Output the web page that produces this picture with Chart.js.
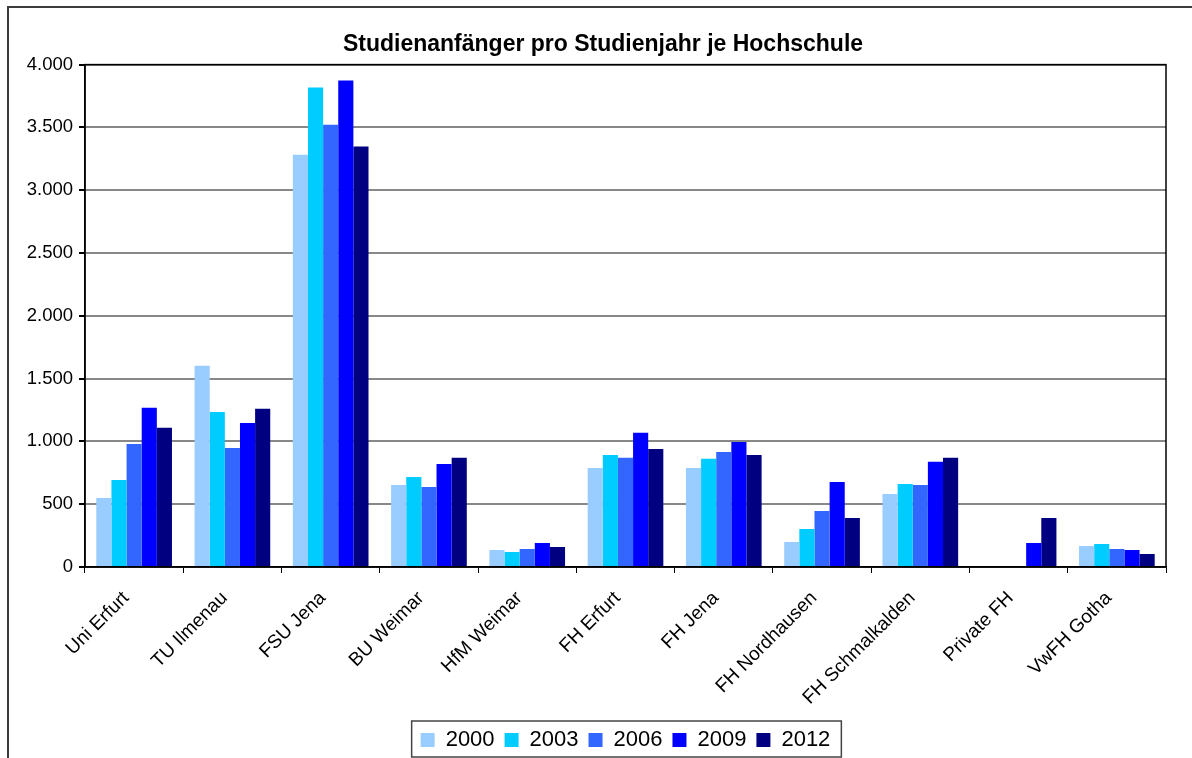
<!DOCTYPE html>
<html lang="de">
<head>
<meta charset="utf-8">
<title>Studienanfänger pro Studienjahr je Hochschule</title>
<script src="https://cdn.jsdelivr.net/npm/chart.js@4.4.1/dist/chart.umd.min.js"></script>
<style>
    html, body { margin: 0; padding: 0; background: #fff; }
    #wrap { position: relative; width: 1192px; height: 758px; }
</style>
</head>
<body>
<div id="wrap"><canvas id="mainChart" width="1192" height="758"></canvas></div>
<script>
// Data
const hochschulen = ["Uni Erfurt", "TU Ilmenau", "FSU Jena", "BU Weimar", "HfM Weimar", "FH Erfurt",
    "FH Jena", "FH Nordhausen", "FH Schmalkalden", "Private FH", "VwFH Gotha"];
const jahre = ["2000", "2003", "2006", "2009", "2012"];
const werte2000 = [550, 1602, 3283, 653, 135, 789, 789, 199, 582, null, 167];
const werte2003 = [693, 1235, 3817, 717, 120, 892, 861, 303, 661, null, 183];
const werte2006 = [980, 948, 3522, 637, 143, 869, 916, 446, 653, null, 143];
const werte2009 = [1267, 1147, 3873, 821, 191, 1068, 996, 677, 837, 191, 135];
const werte2012 = [1108, 1259, 3347, 869, 159, 940, 892, 390, 869, 390, 104];
const yTicks = [0, 500, 1000, 1500, 2000, 2500, 3000, 3500, 4000];

const farben = ["#99CCFF", "#00CCFF", "#3366FF", "#0000FF", "#000080"];

document.addEventListener("DOMContentLoaded", function () {
    Chart.defaults.font.family = "Arial, 'Liberation Sans', sans-serif";
    Chart.defaults.color = "#000";

    const serien = [werte2000, werte2003, werte2006, werte2009, werte2012];

    // outer frame, plot frame and legend box
    const rahmen = {
        id: "rahmen",
        afterLayout(chart) {
            // center legend under plot area like Excel does
            const lg = chart.legend;
            lg.left = chart.chartArea.left;
            lg.right = chart.chartArea.right;
            lg.top += 3;
            lg.bottom += 3;
            // title centered on the whole frame
            if (chart.titleBlock) {
                chart.titleBlock.left = 8;
                chart.titleBlock.right = 1198;
                chart.titleBlock.width = 1190;
            }
        },
        beforeDraw(chart) {
            const ctx = chart.ctx;
            ctx.save();
            ctx.fillStyle = "#fff";
            ctx.fillRect(0, 0, chart.width, chart.height);
            ctx.strokeStyle = "#3c3c3c";
            ctx.lineWidth = 2;
            ctx.strokeRect(8, 7, 1190, 800);
            ctx.restore();
        },
        afterDraw(chart) {
            const ctx = chart.ctx;
            const a = chart.chartArea;
            ctx.save();
            ctx.strokeStyle = "#000";
            ctx.lineWidth = 1.5;
            ctx.strokeRect(a.left, a.top, a.right - a.left, a.bottom - a.top);

            const boxes = chart.legend.legendHitBoxes;
            if (boxes && boxes.length) {
                const first = boxes[0];
                const last = boxes[boxes.length - 1];
                ctx.strokeStyle = "#444";
                ctx.lineWidth = 1.5;
                ctx.strokeRect(first.left - 9, 721, (last.left + last.width + 11) - (first.left - 9), 36);
            }
            ctx.restore();
        }
    };

    new Chart(document.getElementById("mainChart").getContext("2d"), {
        type: "bar",
        data: {
            labels: hochschulen,
            datasets: jahre.map((jahr, i) => ({
                label: jahr,
                data: serien[i],
                backgroundColor: farben[i],
                borderWidth: 0,
                categoryPercentage: 0.77,
                barPercentage: 1.0
            }))
        },
        options: {
            responsive: false,
            animation: false,
            layout: { padding: { left: 10, right: 26, top: 0, bottom: 0 } },
            plugins: {
                title: {
                    display: true,
                    text: "Studienanfänger pro Studienjahr je Hochschule",
                    font: { size: 23, weight: "bold" },
                    padding: { top: 31, bottom: 6 }
                },
                legend: {
                    position: "bottom",
                    labels: {
                        font: { size: 22 },
                        boxWidth: 14,
                        boxHeight: 14,
                        padding: 10
                    }
                },
                tooltip: { enabled: false }
            },
            scales: {
                x: {
                    grid: {
                        drawOnChartArea: false,
                        tickColor: "#000",
                        tickLength: 6,
                        offset: true
                    },
                    border: { color: "#000", width: 1.5 },
                    ticks: {
                        minRotation: 45,
                        maxRotation: 45,
                        padding: 14,
                        labelOffset: -8,
                        font: { size: 19 }
                    },
                    afterFit(scale) {
                        scale.height = 149;
                    }
                },
                y: {
                    min: 0,
                    max: 4000,
                    afterBuildTicks(scale) {
                        scale.ticks = yTicks.map(v => ({ value: v }));
                    },
                    grid: {
                        color: "#888",
                        lineWidth: 2,
                        tickColor: "#000",
                        tickLength: 6
                    },
                    border: { color: "#000", width: 1.5 },
                    ticks: {
                        padding: 6,
                        font: { size: 18.5 },
                        callback: v => v.toLocaleString("de-DE")
                    },
                    afterFit(scale) {
                        scale.width = 75;
                    }
                }
            }
        },
        plugins: [rahmen]
    });
});
</script>
</body>
</html>
